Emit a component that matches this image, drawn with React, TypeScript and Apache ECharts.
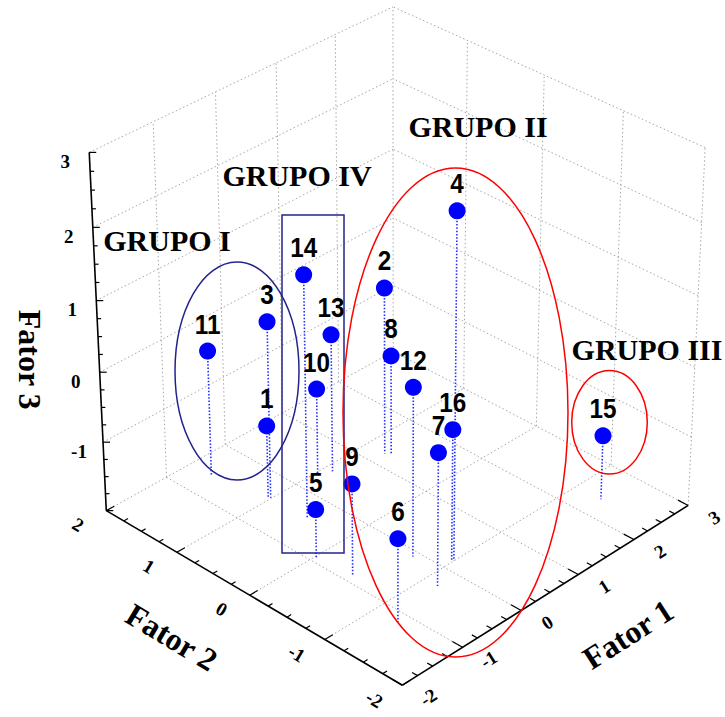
import { useEffect, useRef } from "react";
import * as echarts from "echarts";

// Scores of the 16 objects on the three retained factors
const pointLabels = ["1", "2", "3", "4", "5", "6", "7", "8", "9", "10", "11", "12", "13", "14", "15", "16"];
const fator1 = [-0.45, 1.24, -0.42, 0.175, -0.93, -1.17, -0.33, 1.29, -0.87, 0.34, -0.585, -0.1, 0.51, -0.4, 2.36, 0.15];
const fator2 = [1.02, 0.75, 1.01, -1.0, -0.03, -1.3, -1.17, 0.7, -0.47, 0.97, 1.71, -0.67, 0.9, 0.52, -1.32, -0.99];
const fator3 = [-0.94, 0.41, 0.535, 2.84, -1.29, -0.81, -0.1, -0.56, -0.69, -0.75, -0.19, 0.41, -0.01, 1.44, -1.07, -0.115];

// Axis ticks of the box
const fator1Ticks = [-2, -1, 0, 1, 2, 3];
const fator2Ticks = [-2, -1, 0, 1, 2];
const fator3Ticks = [-2, -1, 0, 1, 2, 3];
const axisTitles = ["Fator 1", "Fator 2", "Fator 3"];

// Cluster annotations
const groupNames = ["GRUPO I", "GRUPO II", "GRUPO III", "GRUPO IV"];

const F1_MIN = -2, F1_MAX = 3;
const F2_MIN = -2, F2_MAX = 2;
const F3_MIN = -2, F3_MAX = 3;
const MINOR_STEP = 0.25;

// Camera of the 3D view (angles in degrees, distance in half-box units)
const AZIMUTH = 44.1;
const ELEVATION = 32.3;
const CAMERA_DISTANCE = 18.8;

const rad = Math.PI / 180;
const sp = Math.sin(AZIMUTH * rad), cp = Math.cos(AZIMUTH * rad);
const se = Math.sin(ELEVATION * rad), ce = Math.cos(ELEVATION * rad);

// Perspective projection of factor space onto the view plane
function project(f1: number, f2: number, f3: number): [number, number] {
  const X = (f1 - (F1_MIN + F1_MAX) / 2) / ((F1_MAX - F1_MIN) / 2);
  const Y = (f2 - (F2_MIN + F2_MAX) / 2) / ((F2_MAX - F2_MIN) / 2);
  const Z = (f3 - (F3_MIN + F3_MAX) / 2) / ((F3_MAX - F3_MIN) / 2);
  const right = X * sp - Y * cp;
  const up = X * se * cp + Y * se * sp + Z * ce;
  const toward = -X * ce * cp - Y * ce * sp + Z * se;
  const k = CAMERA_DISTANCE / (CAMERA_DISTANCE - toward);
  return [right * k, up * k];
}

function range(a: number, b: number, step: number) {
  const out: number[] = [];
  const n = Math.round((b - a) / step);
  for (let i = 0; i <= n; i++) out.push(+(a + i * step).toFixed(4));
  return out;
}

const SERIF = "'Liberation Serif', 'Times New Roman', serif";
const SANS = "'Liberation Sans', Arial, sans-serif";

function textEl(text: string, x: number, y: number, font: string, rotation = 0, fill = "#000") {
  return {
    type: "text",
    x,
    y,
    rotation,
    style: {
      text,
      font,
      fill,
      align: "center",
      verticalAlign: "middle",
      textAlign: "center",
      textVerticalAlign: "middle",
    },
  };
}

function renderFrame(_params: any, api: any) {
  const P = (a: number, b: number, c: number) => api.coord(project(a, b, c));
  const children: any[] = [];
  const seg = (p: number[], q: number[], style: any) =>
    children.push({ type: "line", shape: { x1: p[0], y1: p[1], x2: q[0], y2: q[1] }, style });
  const grid = { stroke: "#a6a6a6", lineWidth: 1, lineDash: [1.5, 2.5], fill: null };
  const axis = { stroke: "#000", lineWidth: 1.6, fill: null };
  const tick = { stroke: "#000", lineWidth: 1.2, fill: null };

  // floor (Fator 3 = min)
  fator1Ticks.filter((v) => v > F1_MIN).forEach((v) => seg(P(v, F2_MIN, F3_MIN), P(v, F2_MAX, F3_MIN), grid));
  fator2Ticks.filter((v) => v > F2_MIN).forEach((v) => seg(P(F1_MIN, v, F3_MIN), P(F1_MAX, v, F3_MIN), grid));
  // back wall at Fator 2 = max
  fator1Ticks.filter((v) => v > F1_MIN).forEach((v) => seg(P(v, F2_MAX, F3_MIN), P(v, F2_MAX, F3_MAX), grid));
  fator3Ticks.filter((v) => v > F3_MIN).forEach((v) => seg(P(F1_MIN, F2_MAX, v), P(F1_MAX, F2_MAX, v), grid));
  // back wall at Fator 1 = max
  fator2Ticks.filter((v) => v < F2_MAX).forEach((v) => seg(P(F1_MAX, v, F3_MIN), P(F1_MAX, v, F3_MAX), grid));
  fator3Ticks.filter((v) => v > F3_MIN).forEach((v) => seg(P(F1_MAX, F2_MIN, v), P(F1_MAX, F2_MAX, v), grid));

  // axis lines
  seg(P(F1_MIN, F2_MIN, F3_MIN), P(F1_MAX, F2_MIN, F3_MIN), axis);
  seg(P(F1_MIN, F2_MIN, F3_MIN), P(F1_MIN, F2_MAX, F3_MIN), axis);
  seg(P(F1_MIN, F2_MAX, F3_MIN), P(F1_MIN, F2_MAX, F3_MAX), axis);

  // ticks
  range(F1_MIN, F1_MAX, MINOR_STEP).forEach((v) => {
    const major = Number.isInteger(v);
    seg(P(v, F2_MIN, F3_MIN), P(v, F2_MIN + (major ? 0.13 : 0.07), F3_MIN), tick);
  });
  range(F2_MIN, F2_MAX, MINOR_STEP).forEach((v) => {
    const major = Number.isInteger(v);
    seg(P(F1_MIN, v, F3_MIN), P(F1_MIN + (major ? 0.13 : 0.07), v, F3_MIN), tick);
  });
  range(F3_MIN, F3_MAX, MINOR_STEP).forEach((v) => {
    const major = Number.isInteger(v);
    const p = P(F1_MIN, F2_MAX, v);
    seg(p, [p[0] + (major ? 7 : 4), p[1]], tick);
  });

  // tick labels
  const tickFont = `bold 19px ${SERIF}`;
  fator1Ticks.forEach((v) => {
    const p = P(v, F2_MIN, F3_MIN);
    children.push(textEl(String(v), p[0] + 26, p[1] + 12, tickFont, 0.57));
  });
  fator2Ticks.forEach((v) => {
    const p = P(F1_MIN, v, F3_MIN);
    children.push(textEl(String(v), p[0] - 28, p[1] + 14, tickFont, -0.54));
  });
  fator3Ticks.filter((v) => v > F3_MIN).forEach((v) => {
    const p = P(F1_MIN, F2_MAX, v);
    children.push(textEl(String(v), p[0] - 24, p[1] + 9, tickFont));
  });

  // axis titles
  const titleFont = `bold 32px ${SERIF}`;
  const t1 = P((F1_MIN + F1_MAX) / 2, F2_MIN, F3_MIN);
  children.push(textEl(axisTitles[0], t1[0] + 78, t1[1] + 42, titleFont, 0.57));
  const t2 = P(F1_MIN, (F2_MIN + F2_MAX) / 2, F3_MIN);
  children.push(textEl(axisTitles[1], t2[0] - 78, t2[1] + 42, titleFont, -0.54));
  const t3 = P(F1_MIN, F2_MAX, (F3_MIN + F3_MAX) / 2);
  children.push(textEl(axisTitles[2], t3[0] - 68, t3[1] + 23, titleFont, -Math.PI / 2));

  return { type: "group", children };
}

function renderDropLine(_params: any, api: any) {
  const a = api.value(0), b = api.value(1), c = api.value(2);
  const top = api.coord(project(a, b, c));
  const base = api.coord(project(a, b, F3_MIN));
  return {
    type: "line",
    shape: { x1: top[0], y1: top[1], x2: base[0], y2: base[1] },
    style: { stroke: "#1f2dff", lineWidth: 1.6, lineDash: [1.5, 1.8], fill: null },
  };
}

function renderDot(_params: any, api: any) {
  const p = api.coord(project(api.value(0), api.value(1), api.value(2)));
  return { type: "circle", shape: { cx: p[0], cy: p[1], r: 8.5 }, style: { fill: "#0000ff" } };
}

function renderLabel(params: any, api: any) {
  const p = api.coord(project(api.value(0), api.value(1), api.value(2)));
  return { ...textEl(pointLabels[params.dataIndex], p[0], p[1] - 27, `bold 27px ${SANS}`), scaleX: 0.9 };
}

export default function App() {
  const ref = useRef<HTMLDivElement>(null);

  useEffect(() => {
    if (!ref.current) return;
    const chart = echarts.init(ref.current, null, { renderer: "svg" });
    const points = fator1.map((v, i) => [v, fator2[i], fator3[i]]);
    const navy = "#23238f";
    const red = "#ff0000";
    const groupFont = `bold 30px ${SERIF}`;

    chart.setOption({
      animation: false,
      backgroundColor: "#ffffff",
      grid: { left: 0, right: 0, top: 0, bottom: 0 },
      xAxis: { type: "value", min: -1.8786, max: 1.5477, show: false },
      yAxis: { type: "value", min: -1.8095, max: 1.5789, show: false },
      series: [
        { type: "custom", name: "frame", data: [[0, 0]], renderItem: renderFrame, silent: true, z: 1 },
        { type: "custom", name: "drop", data: points, renderItem: renderDropLine, silent: true, z: 2 },
        { type: "custom", name: "objects", data: points, renderItem: renderDot, z: 3 },
        { type: "custom", name: "labels", data: points, renderItem: renderLabel, silent: true, z: 4 },
      ],
      graphic: [
        { type: "ellipse", z: 10, shape: { cx: 237, cy: 371, rx: 62, ry: 109 }, style: { fill: null, stroke: navy, lineWidth: 1.5 } },
        { type: "rect", z: 10, shape: { x: 282, y: 215, width: 62, height: 338 }, style: { fill: null, stroke: navy, lineWidth: 1.5 } },
        { type: "ellipse", z: 10, shape: { cx: 455.5, cy: 412.5, rx: 112.5, ry: 244.5 }, style: { fill: null, stroke: red, lineWidth: 1.5 } },
        { type: "ellipse", z: 10, shape: { cx: 609.5, cy: 422.3, rx: 37.8, ry: 51.7 }, style: { fill: null, stroke: red, lineWidth: 1.5 } },
        { ...textEl(groupNames[0], 167, 240, groupFont), z: 11 },
        { ...textEl(groupNames[1], 478, 126, groupFont), z: 11 },
        { ...textEl(groupNames[2], 647, 349, groupFont), z: 11 },
        { ...textEl(groupNames[3], 297, 175, groupFont), z: 11 },
      ],
    });
    return () => chart.dispose();
  }, []);

  return <div ref={ref} style={{ position: "absolute", left: 0, top: 0, width: 725, height: 717, background: "#fff" }} />;
}
